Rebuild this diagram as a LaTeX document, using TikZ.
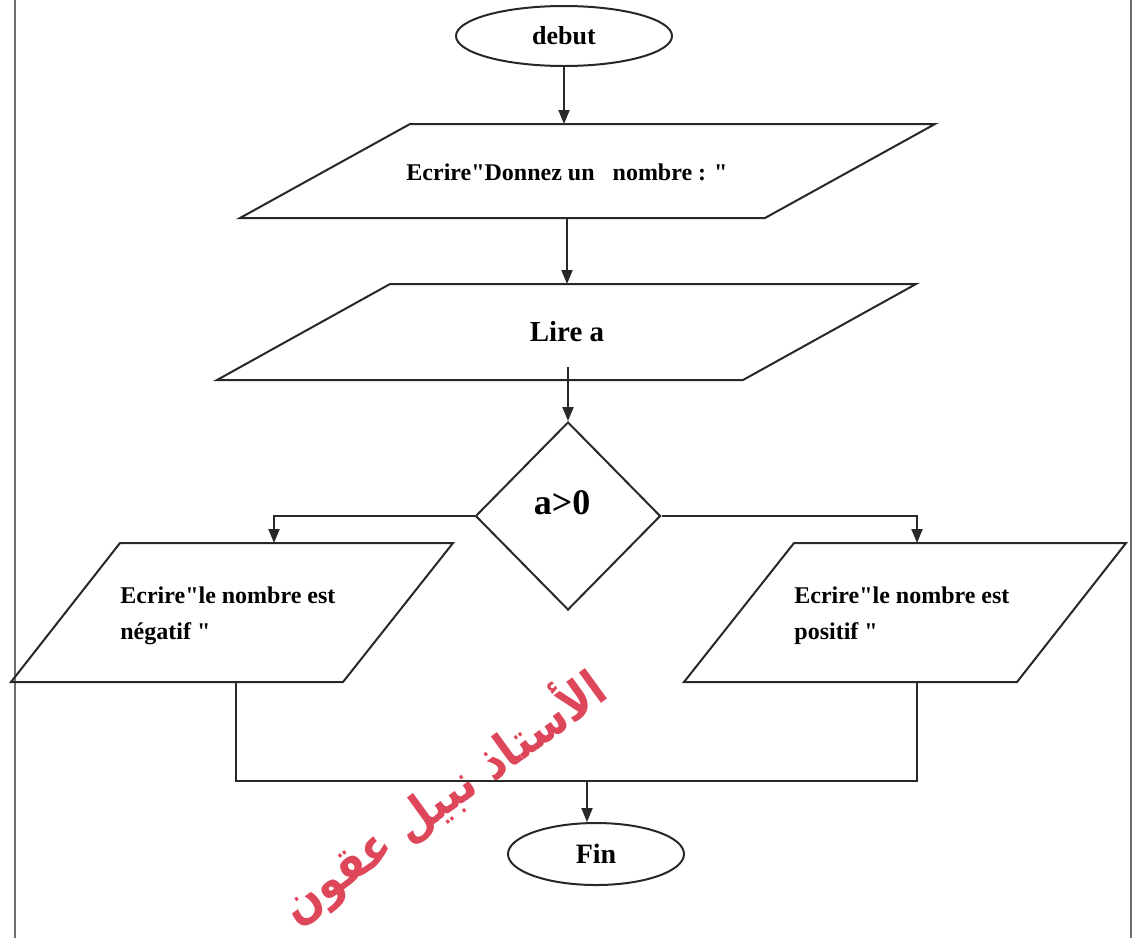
\documentclass[tikz,border=0pt]{standalone}
\usepackage{fontspec}
\usetikzlibrary{arrows.meta,shapes.geometric,calc}
\setmainfont{Liberation Serif}[Ligatures=TeXOff]
\newfontfamily\arabicfont[Script=Arabic]{DejaVu Sans}
\TeXXeTstate=1
\definecolor{wmred}{RGB}{222,70,90}
\definecolor{framegray}{RGB}{110,110,110}
\definecolor{ink}{RGB}{40,40,40}
\tikzset{
  line/.style={draw=ink,line width=1pt},
  flow/.style={line,-{Triangle[width=5.5pt,length=7pt]}},
  txt/.style={font=\bfseries,inner sep=0pt},
  term/.style={ellipse,draw=ink,line width=1pt,inner sep=0pt,font=\bfseries},
  decision/.style={diamond,draw=ink,line width=1pt,inner sep=0pt}
}
\begin{document}
\begin{tikzpicture}[x=0.5pt,y=-0.5pt]
\useasboundingbox (0,0) rectangle (1143,938);
% frame
\draw[framegray,line width=1.4pt] (15,0) -- (15,938);
\draw[framegray,line width=1.4pt] (1131,0) -- (1131,938);

% watermark (behind)
\node[text=wmred,rotate=36,inner sep=0pt,yscale=1.15,font=\arabicfont\bfseries\fontsize{21.5}{24}\selectfont] (wm) at (443,797) {\beginR الأستاذ نبيل عقون\endR};

% debut
\node[term,minimum width=108pt,minimum height=30pt,font=\bfseries\fontsize{13}{15}\selectfont] (debut) at (564,36) {debut};

% parallelogram 1
\draw[line] (240,218) -- (765,218) -- (935,124) -- (410,124) -- cycle;
\coordinate (p1t) at (564,124);
\coordinate (p1b) at (567,218);
\node[txt,font=\bfseries\fontsize{12}{14}\selectfont] (ecrire1) at (567,172) {Ecrire"Donnez un\ \ \ nombre : "};

% parallelogram 2
\draw[line] (217,380) -- (743,380) -- (916,284) -- (390,284) -- cycle;
\coordinate (p2t) at (567,284);
\coordinate (p2o) at (568,367);
\node[txt,font=\bfseries\fontsize{14.5}{16}\selectfont] (lire) at (567,332) {Lire a};

% decision
\node[decision,minimum width=92.5pt,minimum height=94pt] (dec) at (568,516) {};
\node[txt,font=\bfseries\fontsize{18}{20}\selectfont] (cond) at (562,503) {a>0};

% left output
\draw[line] (11,682) -- (343,682) -- (453,543) -- (120,543) -- cycle;
\coordinate (lt) at (274,543);
\coordinate (lb) at (236,682);
\node[txt,font=\bfseries\fontsize{12}{18}\selectfont,anchor=north west,align=left] (neg) at (120,586) {Ecrire"le nombre est\\négatif "};

% right output
\draw[line] (684,682) -- (1017,682) -- (1126,543) -- (794,543) -- cycle;
\coordinate (rt) at (917,543);
\coordinate (rb) at (917,682);
\node[txt,font=\bfseries\fontsize{12}{18}\selectfont,anchor=north west,align=left] (pos) at (794,586) {Ecrire"le nombre est\\positif "};

% fin
\node[term,minimum width=88pt,minimum height=31pt,font=\bfseries\fontsize{14}{16}\selectfont] (fin) at (596,854) {Fin};
\coordinate (jl) at (236,781);
\coordinate (jr) at (917,781);
\coordinate (jm) at (587,781);

% connectors
\draw[flow] (debut.south) -- (p1t);
\draw[flow] (p1b) -- (p2t);
\draw[flow] (p2o) -- (dec.north);
\draw[flow] (dec.west) -| (lt);
\draw[flow] (dec.east) -| (rt);
\draw[line] (lb) -- (jl) -- (jr) -- (rb);
\draw[flow] (jm) -- (jm |- fin.north);
\end{tikzpicture}
\end{document}
